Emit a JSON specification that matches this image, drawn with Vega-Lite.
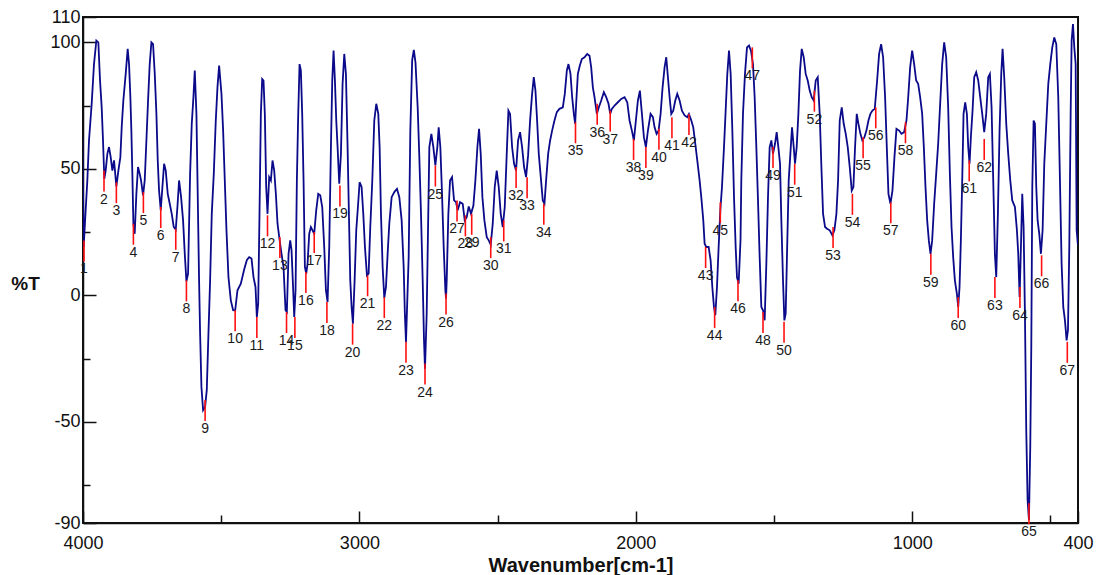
{
  "$schema": "https://vega.github.io/schema/vega-lite/v6.json",
  "width": 995,
  "height": 506,
  "autosize": "none",
  "padding": {"left": 83, "top": 17, "right": 19, "bottom": 52},
  "config": {
    "font": "Liberation Sans",
    "view": {"stroke": "#111", "strokeWidth": 2},
    "axis": {"grid": false, "domainColor": "#111", "domainWidth": 1.5, "tickColor": "#111", "tickWidth": 1.5, "labelColor": "#111", "titleColor": "#111"}
  },
  "datasets": {
    "spectrum": [
      {"w":4002,"t":62.5},{"w":3997.6,"t":19.1},{"w":3990.4,"t":33.6},{"w":3984.3,"t":45.4},{"w":3978.3,"t":61.2},{"w":3968.6,"t":75.7},{"w":3960.2,"t":91.4},{"w":3951.7,"t":100.7},{"w":3944.5,"t":100},{"w":3938.4,"t":84.9},{"w":3932.4,"t":74.3},{"w":3927.6,"t":61.2},{"w":3922.8,"t":46},{"w":3918,"t":49.3},{"w":3911.9,"t":55.9},{"w":3905.9,"t":58.6},{"w":3899.8,"t":54.6},{"w":3893.8,"t":49.3},{"w":3887.7,"t":53.3},{"w":3879.3,"t":43},{"w":3872,"t":49.3},{"w":3864.8,"t":54.6},{"w":3860,"t":66.4},{"w":3854,"t":77},{"w":3845.5,"t":87.5},{"w":3838.3,"t":97.4},{"w":3833.4,"t":91.4},{"w":3828.6,"t":78.3},{"w":3825,"t":65.1},{"w":3821.4,"t":48},{"w":3817.7,"t":28.3},{"w":3812.9,"t":24.3},{"w":3806.9,"t":40.1},{"w":3800.9,"t":50.7},{"w":3794.8,"t":48},{"w":3790,"t":45.4},{"w":3782.7,"t":39.5},{"w":3776.7,"t":45.4},{"w":3770.6,"t":61.2},{"w":3764.6,"t":77},{"w":3758.6,"t":91.4},{"w":3752.5,"t":100},{"w":3746.5,"t":99.3},{"w":3740.4,"t":87.5},{"w":3734.4,"t":71.7},{"w":3729.6,"t":53.3},{"w":3724.8,"t":41.4},{"w":3718.7,"t":33.6},{"w":3712.7,"t":42.8},{"w":3706.6,"t":52},{"w":3700.6,"t":49.3},{"w":3693.4,"t":40.1},{"w":3686.1,"t":36.2},{"w":3678.9,"t":32.2},{"w":3671.7,"t":27},{"w":3664.4,"t":26},{"w":3658.4,"t":34.9},{"w":3652.4,"t":45.4},{"w":3645.1,"t":38.8},{"w":3637.9,"t":29.6},{"w":3631.8,"t":16.4},{"w":3625.8,"t":5.5},{"w":3619.8,"t":8.6},{"w":3612.5,"t":48},{"w":3606.5,"t":67.8},{"w":3600.5,"t":78.3},{"w":3595.6,"t":88.8},{"w":3589.6,"t":71.7},{"w":3584.8,"t":38.8},{"w":3580,"t":5.9},{"w":3576.3,"t":-15.1},{"w":3571.5,"t":-36.2},{"w":3565.5,"t":-45.4},{"w":3558.2,"t":-44.1},{"w":3552.2,"t":-37.5},{"w":3546.1,"t":-15.1},{"w":3540.1,"t":5.9},{"w":3534.1,"t":32.2},{"w":3526.8,"t":48},{"w":3519.6,"t":69.1},{"w":3513.5,"t":82.2},{"w":3507.5,"t":90.8},{"w":3499,"t":79.6},{"w":3493,"t":65.1},{"w":3487,"t":45.4},{"w":3480.9,"t":25.7},{"w":3473.7,"t":7.2},{"w":3465.2,"t":-2},{"w":3456.8,"t":-5.9},{"w":3449.5,"t":-6},{"w":3441.1,"t":2},{"w":3429,"t":4.6},{"w":3416.9,"t":10.2},{"w":3407,"t":14},{"w":3398.8,"t":15.1},{"w":3390.3,"t":14.5},
      {"w":3383.1,"t":7.2},{"w":3375.9,"t":3.3},{"w":3371,"t":-8.6},{"w":3366.2,"t":-3.3},{"w":3361.4,"t":32.2},{"w":3356.5,"t":71.7},{"w":3351.7,"t":85.5},{"w":3346.9,"t":84.9},{"w":3342.1,"t":71.7},{"w":3337.2,"t":42.8},{"w":3332.4,"t":32.2},{"w":3326.4,"t":46.7},{"w":3320.3,"t":45.4},{"w":3314.3,"t":53.3},{"w":3308.2,"t":49.3},{"w":3302.2,"t":40.1},{"w":3296.2,"t":28.3},{"w":3288.9,"t":22},{"w":3281.7,"t":16.4},{"w":3274.5,"t":11.2},{"w":3267.2,"t":-5.9},{"w":3262.4,"t":-6.6},{"w":3256.3,"t":16.4},{"w":3250.3,"t":21.7},{"w":3245.5,"t":17.8},{"w":3239.5,"t":2},{"w":3235.8,"t":-8.6},{"w":3231,"t":2},{"w":3226.2,"t":45.4},{"w":3221.3,"t":71.7},{"w":3216.5,"t":91.4},{"w":3211.7,"t":88.8},{"w":3206.9,"t":71.7},{"w":3202,"t":45.4},{"w":3197.2,"t":11.2},{"w":3192.4,"t":8.6},{"w":3187.5,"t":12.5},{"w":3181.5,"t":24.3},{"w":3175.5,"t":27},{"w":3169.4,"t":25.7},{"w":3163.4,"t":24.3},{"w":3156.2,"t":33.6},{"w":3148.9,"t":40.1},{"w":3141.7,"t":39.5},{"w":3134.4,"t":34.9},{"w":3127.2,"t":19.1},{"w":3121.1,"t":2},{"w":3115.1,"t":-2.6},{"w":3109.1,"t":19.1},{"w":3103,"t":58.6},{"w":3098.2,"t":84.9},{"w":3093.4,"t":96.7},{"w":3088.5,"t":84.9},{"w":3083.7,"t":69.1},{"w":3078.9,"t":58.6},{"w":3072.9,"t":44.1},{"w":3066.8,"t":55.9},{"w":3060.8,"t":83.6},{"w":3054.7,"t":95.4},{"w":3048.7,"t":87.5},{"w":3042.7,"t":58.6},{"w":3037.9,"t":32.2},{"w":3033,"t":5.9},{"w":3028.2,"t":-4.6},{"w":3023.4,"t":-11.2},{"w":3017.3,"t":5.9},{"w":3011.3,"t":25.7},{"w":3005.3,"t":34.9},{"w":2999.2,"t":44.7},{"w":2992,"t":42.8},{"w":2985.9,"t":32.2},{"w":2979.9,"t":19.1},{"w":2972.7,"t":7.9},{"w":2966.6,"t":8.6},{"w":2960.6,"t":27},{"w":2953.3,"t":45.4},{"w":2946.1,"t":69.1},{"w":2938.9,"t":75.7},{"w":2931.6,"t":71.7},{"w":2926.8,"t":58.6},{"w":2921.9,"t":32.2},{"w":2915.9,"t":11.2},{"w":2909.9,"t":-1},{"w":2903.8,"t":3.3},{"w":2897.8,"t":16.4},{"w":2891.8,"t":28.3},{"w":2883.3,"t":38.8},{"w":2873.7,"t":40.8},{"w":2864,"t":42.1},{"w":2855.5,"t":38.8},{"w":2847.1,"t":29.6},{"w":2839.8,"t":11.2},{"w":2835.5,"t":-7.2},{"w":2831.4,"t":-18.4},{"w":2821.7,"t":15.1},{"w":2815.7,"t":65.1},{"w":2809,"t":93},{"w":2803,"t":97},{"w":2797,"t":92},
      {"w":2789.1,"t":74.3},{"w":2783.1,"t":54.6},{"w":2777.1,"t":32.2},{"w":2771,"t":5.9},{"w":2766.2,"t":-17.8},{"w":2762.6,"t":-29},{"w":2756.5,"t":-7.2},{"w":2751.7,"t":25.7},{"w":2746.9,"t":58.6},{"w":2739.6,"t":63.8},{"w":2732.4,"t":58.6},{"w":2725.1,"t":51.3},{"w":2717.9,"t":58.6},{"w":2713.1,"t":66.4},{"w":2707.1,"t":58.6},{"w":2701,"t":40.1},{"w":2695,"t":19.1},{"w":2688.9,"t":2},{"w":2686.5,"t":-1.3},{"w":2684.1,"t":5.9},{"w":2678.1,"t":32.2},{"w":2672,"t":45.4},{"w":2664.8,"t":46.7},{"w":2657.5,"t":37.5},{"w":2650.3,"t":36.8},{"w":2644.3,"t":33.6},{"w":2635.8,"t":36.8},{"w":2626.2,"t":36.2},{"w":2618.9,"t":29.6},{"w":2611.7,"t":30.9},{"w":2604.4,"t":35.1},{"w":2596,"t":32.2},{"w":2587.5,"t":35.5},{"w":2580.3,"t":45.4},{"w":2573,"t":58.6},{"w":2567,"t":65.8},{"w":2561,"t":55.9},{"w":2554.9,"t":38.8},{"w":2547.7,"t":29.6},{"w":2539.2,"t":23},{"w":2532,"t":21.7},{"w":2524.8,"t":20},{"w":2517.5,"t":28.3},{"w":2510.3,"t":42.8},{"w":2503.1,"t":49.3},{"w":2495.8,"t":42.8},{"w":2488.6,"t":32.2},{"w":2481.3,"t":27},{"w":2474.1,"t":34.9},{"w":2466.9,"t":55.9},{"w":2460.8,"t":73},{"w":2454.8,"t":71.7},{"w":2447.5,"t":58.6},{"w":2440.3,"t":52},{"w":2433.1,"t":49.3},{"w":2425.8,"t":61.2},{"w":2418.6,"t":64.5},{"w":2411.3,"t":58.6},{"w":2404.1,"t":50.7},{"w":2396.9,"t":46.7},{"w":2389.6,"t":55.3},{"w":2382.4,"t":69.1},{"w":2375.1,"t":79.6},{"w":2369,"t":86.2},{"w":2363,"t":80.9},{"w":2357,"t":69.1},{"w":2351,"t":55.9},{"w":2343.7,"t":46.7},{"w":2336.5,"t":37.5},{"w":2330.4,"t":36.2},{"w":2324.4,"t":45.4},{"w":2317.1,"t":55.9},{"w":2309.9,"t":61.2},{"w":2302.7,"t":65.1},{"w":2294.2,"t":69.1},{"w":2285.7,"t":72.4},{"w":2276.1,"t":73.7},{"w":2264,"t":74.3},{"w":2256.8,"t":79.6},{"w":2249.5,"t":88.8},{"w":2243.5,"t":91.4},{"w":2236.2,"t":87.5},{"w":2230.2,"t":78.3},{"w":2224.1,"t":71.7},{"w":2219.3,"t":67.8},{"w":2215.7,"t":75.7},{"w":2209.6,"t":87.5},
      {"w":2202.4,"t":90.8},{"w":2195.1,"t":93.4},{"w":2185.5,"t":94.1},{"w":2175.8,"t":95.4},{"w":2167.4,"t":94.7},{"w":2161.3,"t":90.1},{"w":2155.3,"t":82.2},{"w":2149.3,"t":78.3},{"w":2140.8,"t":71.7},{"w":2133.6,"t":74.3},{"w":2125.1,"t":77},{"w":2115.5,"t":80.3},{"w":2107,"t":78.3},{"w":2098.6,"t":75.7},{"w":2092.5,"t":71.7},{"w":2086.5,"t":73.7},{"w":2076.8,"t":75},{"w":2064.8,"t":76.3},{"w":2052.7,"t":77.6},{"w":2040.6,"t":78.3},{"w":2030.9,"t":76.3},{"w":2022.5,"t":69.1},{"w":2014.1,"t":65.1},{"w":2006.8,"t":61.2},{"w":2000.8,"t":67.8},{"w":1992.3,"t":77},{"w":1985.1,"t":80.9},{"w":1977.8,"t":71.7},{"w":1970.6,"t":62.5},{"w":1963.4,"t":58.6},{"w":1956.1,"t":65.1},{"w":1946.5,"t":71.7},{"w":1938,"t":70.4},{"w":1932,"t":66.4},{"w":1924.7,"t":63.8},{"w":1917.5,"t":65.1},{"w":1910.2,"t":71.7},{"w":1903,"t":82.2},{"w":1895.8,"t":90.1},{"w":1889.7,"t":94.1},{"w":1883.7,"t":86.2},{"w":1877.6,"t":78.3},{"w":1871.6,"t":71.7},{"w":1864.4,"t":73},{"w":1857.1,"t":77},{"w":1849.9,"t":79.6},{"w":1841.4,"t":77},{"w":1833,"t":73},{"w":1823.3,"t":71.1},{"w":1813.7,"t":70.4},{"w":1807.6,"t":71.7},{"w":1799.1,"t":69.1},{"w":1792,"t":66.4},{"w":1784.7,"t":59.9},{"w":1777.5,"t":53.3},{"w":1769,"t":45.4},{"w":1763,"t":38.8},{"w":1755.7,"t":29.6},{"w":1750.9,"t":20.4},{"w":1744.9,"t":19.1},{"w":1736.4,"t":19.1},{"w":1729.2,"t":13.8},{"w":1723.1,"t":3.3},{"w":1717.1,"t":-4.6},{"w":1712.3,"t":-7.9},{"w":1706.2,"t":3.3},{"w":1700.2,"t":19.1},{"w":1694.1,"t":33.6},{"w":1688.1,"t":42.8},{"w":1680.8,"t":58.6},{"w":1674.8,"t":73},{"w":1668.8,"t":87.5},{"w":1662.7,"t":96.7},{"w":1656.7,"t":87.5},{"w":1650.6,"t":65.1},{"w":1644.6,"t":38.8},{"w":1638.6,"t":19.1},{"w":1633.8,"t":7.2},{"w":1627.8,"t":4.6},{"w":1621,"t":22},{"w":1618.2,"t":45.4},{"w":1612.1,"t":71.7},{"w":1604.9,"t":87.5},
      {"w":1597.6,"t":98},{"w":1590.4,"t":98.7},{"w":1583.2,"t":96.7},{"w":1575.9,"t":91.4},{"w":1569.9,"t":78.3},{"w":1563.8,"t":58.6},{"w":1557.8,"t":37.5},{"w":1551.8,"t":15.1},{"w":1545.7,"t":-4.6},{"w":1539.7,"t":-5.9},{"w":1533.7,"t":-9.9},{"w":1527.6,"t":12.5},{"w":1521.6,"t":38.8},{"w":1515.6,"t":58.6},{"w":1509.5,"t":61.2},{"w":1503.5,"t":55.9},{"w":1496.2,"t":59.9},{"w":1490.2,"t":64.5},{"w":1484.2,"t":58.6},{"w":1478.1,"t":52},{"w":1473.3,"t":29.6},{"w":1467.3,"t":5.9},{"w":1462.4,"t":-9.9},{"w":1457.6,"t":-7.2},{"w":1452.8,"t":16.4},{"w":1446.7,"t":45.4},{"w":1440.7,"t":55.9},{"w":1434.7,"t":66.4},{"w":1428.6,"t":58.6},{"w":1423.8,"t":52},{"w":1417.8,"t":58.6},{"w":1411.7,"t":71.7},{"w":1405.7,"t":88.8},{"w":1399.6,"t":97.4},{"w":1392.4,"t":94.1},{"w":1385.2,"t":87.5},{"w":1377.9,"t":84.9},{"w":1370.7,"t":80.9},{"w":1363.4,"t":78.3},{"w":1356.2,"t":77},{"w":1348.9,"t":84.9},{"w":1341.7,"t":86.2},{"w":1334.5,"t":71.7},{"w":1328.4,"t":50.7},{"w":1322.4,"t":32.2},{"w":1315.2,"t":27},{"w":1307.9,"t":26.3},{"w":1298.3,"t":25.7},{"w":1288.6,"t":23.7},{"w":1281.4,"t":25.7},{"w":1274.1,"t":32.2},{"w":1268.1,"t":45.4},{"w":1262.1,"t":69.1},{"w":1254.8,"t":74.3},{"w":1247.6,"t":67.8},{"w":1240.3,"t":63.8},{"w":1233.1,"t":58.6},{"w":1225.9,"t":50.7},{"w":1218.6,"t":41.4},{"w":1212.6,"t":42.8},{"w":1206.6,"t":58.6},{"w":1200.5,"t":71.7},{"w":1194.5,"t":67.8},{"w":1187.3,"t":63.8},{"w":1180,"t":61.2},{"w":1172.7,"t":62.5},{"w":1165.5,"t":65.1},{"w":1158.2,"t":69.1},{"w":1151,"t":71.7},{"w":1143.7,"t":73},{"w":1135.3,"t":73.7},{"w":1126.8,"t":84.9},{"w":1119.6,"t":95.4},{"w":1112.3,"t":99.3},{"w":1105.1,"t":94.1},{"w":1097.9,"t":78.3},{"w":1091.8,"t":58.6},{"w":1085.8,"t":40.1},{"w":1078.5,"t":36.2},{"w":1071.3,"t":41.4},{"w":1064.1,"t":54.6},{"w":1056.8,"t":65.8},{"w":1047.2,"t":65.1},{"w":1038.7,"t":63.8},{"w":1029.1,"t":64.5},{"w":1020.6,"t":69.1},{"w":1014.5,"t":78},
      {"w":1007.3,"t":90.1},{"w":1000,"t":96.7},{"w":992.8,"t":91.4},{"w":985.6,"t":84.9},{"w":978.3,"t":83.6},{"w":971.1,"t":78.3},{"w":963.8,"t":71.7},{"w":957.8,"t":58.6},{"w":951.8,"t":42.8},{"w":945.7,"t":29.6},{"w":939.7,"t":21.7},{"w":933.6,"t":16.4},{"w":927.6,"t":21.7},{"w":920.4,"t":36.2},{"w":913.1,"t":48},{"w":905.9,"t":59.9},{"w":898.7,"t":75.7},{"w":891.4,"t":91.4},{"w":884.2,"t":100},{"w":876.9,"t":94.1},{"w":869.7,"t":74.3},{"w":863.6,"t":48},{"w":857.6,"t":27},{"w":851.6,"t":15.1},{"w":845.5,"t":5.9},{"w":838.3,"t":0.7},{"w":833.4,"t":-4.6},{"w":828.6,"t":3.3},{"w":823.8,"t":21.7},{"w":818.9,"t":45.4},{"w":814.1,"t":71.7},{"w":808.1,"t":76.3},{"w":802,"t":71.7},{"w":797.2,"t":58.6},{"w":792.4,"t":52},{"w":787.6,"t":62.5},{"w":781.5,"t":73},{"w":775.5,"t":86.2},{"w":768.3,"t":88.2},{"w":761,"t":84.9},{"w":753.8,"t":78.3},{"w":746.5,"t":71.7},{"w":739.3,"t":64.5},{"w":732.1,"t":71.7},{"w":724.8,"t":86.2},{"w":718.8,"t":87.5},{"w":712.7,"t":74.3},{"w":706.7,"t":45.4},{"w":700.7,"t":16.4},{"w":695.8,"t":7.2},{"w":689.8,"t":32.2},{"w":683.8,"t":65.1},{"w":677.7,"t":87.5},{"w":672.9,"t":97.4},{"w":666.9,"t":86.2},{"w":659.6,"t":67.8},{"w":652.4,"t":55.9},{"w":645.1,"t":45.4},{"w":637.9,"t":37.5},{"w":628.2,"t":34.9},{"w":621,"t":25.7},{"w":616.2,"t":16.4},{"w":611.3,"t":-0.7},{"w":606.5,"t":19.1},{"w":601.7,"t":40.1},{"w":596.8,"t":27},{"w":592,"t":-7.2},{"w":587.2,"t":-53.3},{"w":582.4,"t":-80.9},{"w":577.5,"t":-88.8},{"w":572.7,"t":-59.9},{"w":569,"t":-20.4},{"w":565.4,"t":42.8},{"w":560.6,"t":69.1},{"w":555.8,"t":67.8},{"w":551,"t":42.8},{"w":546.1,"t":29.6},{"w":540.1,"t":24.3},{"w":534.1,"t":16.4},{"w":528.1,"t":25.7},{"w":522,"t":52},{"w":514.8,"t":67.8},{"w":507.5,"t":83.6},{"w":500.3,"t":91.4},{"w":493.1,"t":98},{"w":485.8,"t":101.9},{"w":478.6,"t":99.3},{"w":471.4,"t":78.3},{"w":465.3,"t":45.4},{"w":459.3,"t":12.5},{"w":453.3,"t":-4.6},{"w":447.2,"t":-9.9},{"w":441.2,"t":-17.8},{"w":436.3,"t":-13.8},{"w":431.5,"t":19.1},{"w":426.6,"t":71.7},{"w":423,"t":100.7},{"w":418.2,"t":107.2},{"w":413.4,"t":98},{"w":408.5,"t":91.4},{"w":404.9,"t":25.7},{"w":400.5,"t":20}
    ],
    "peaks": [
      {"n":"1","w":3996.4,"t":21.7},{"n":"2","w":3924,"t":49.3},{"n":"3","w":3879.3,"t":44.7},{"n":"4","w":3817.7,"t":28.3},{"n":"5","w":3781.5,"t":40.8},{"n":"6","w":3718.7,"t":34.9},{"n":"7","w":3664.4,"t":26.3},{"n":"8","w":3625.8,"t":5.9},{"n":"9","w":3558.2,"t":-41.4},{"n":"10","w":3449.5,"t":-5.9},
      {"n":"11","w":3371,"t":-8.6},{"n":"12","w":3332.4,"t":31.6},{"n":"13","w":3287.7,"t":23},{"n":"14","w":3263.6,"t":-6.6},{"n":"15","w":3233.4,"t":-8.6},{"n":"16","w":3193.6,"t":9.2},{"n":"17","w":3163.4,"t":25},{"n":"18","w":3117.5,"t":-2.6},{"n":"19","w":3070.4,"t":43.4},{"n":"20","w":3024.6,"t":-11.2},
      {"n":"21","w":2970.3,"t":7.9},{"n":"22","w":2909.9,"t":-0.7},{"n":"23","w":2831.4,"t":-18.4},{"n":"24","w":2762.6,"t":-27},{"n":"25","w":2725.1,"t":51.3},{"n":"26","w":2686.5,"t":0.7},{"n":"27","w":2646.7,"t":37.5},{"n":"28","w":2616.5,"t":31.6},{"n":"29","w":2593.6,"t":32.2},{"n":"30","w":2524.8,"t":23},
      {"n":"31","w":2477.7,"t":29.6},{"n":"32","w":2433,"t":50.7},{"n":"33","w":2393.2,"t":46.7},{"n":"34","w":2332.8,"t":36.2},{"n":"35","w":2218.1,"t":68.4},{"n":"36","w":2139.6,"t":75.7},{"n":"37","w":2092.5,"t":73},{"n":"38","w":2008,"t":61.8},{"n":"39","w":1963.4,"t":58.6},{"n":"40","w":1916.3,"t":65.8},
      {"n":"41","w":1869.2,"t":70.4},{"n":"42","w":1807.6,"t":71.7},{"n":"43","w":1747.3,"t":19.1},{"n":"44","w":1714.7,"t":-4.6},{"n":"45","w":1694.1,"t":36.8},{"n":"46","w":1630.2,"t":5.9},{"n":"47","w":1578.3,"t":98},{"n":"48","w":1539.7,"t":-6.6},{"n":"49","w":1503.5,"t":58.6},{"n":"50","w":1463.6,"t":-10.5},
      {"n":"51","w":1425,"t":52},{"n":"52","w":1353.8,"t":80.9},{"n":"53","w":1286.2,"t":27},{"n":"54","w":1216.2,"t":40.1},{"n":"55","w":1177.5,"t":62.5},{"n":"56","w":1131.7,"t":74.3},{"n":"57","w":1077.3,"t":36.8},{"n":"58","w":1024.2,"t":68.4},{"n":"59","w":932.4,"t":16.4},{"n":"60","w":833.4,"t":-0.7},
      {"n":"61","w":793.6,"t":53.3},{"n":"62","w":739.3,"t":61.8},{"n":"63","w":700.7,"t":7.2},{"n":"64","w":610.1,"t":3.3},{"n":"65","w":577.5,"t":-82.2},{"n":"66","w":531.7,"t":15.8},{"n":"67","w":438.7,"t":-18.4}
    ]
  },
  "layer": [
    {
      "mark": {"type": "rule", "color": "#000", "strokeWidth": 1.5},
      "encoding": {
        "y": {"datum": 0, "type": "quantitative", "scale": {"domain": [-90, 110]}}
      }
    },
    {
      "data": {"name": "spectrum"},
      "mark": {"type": "line", "color": "#0a0a8a", "strokeWidth": 1.8, "clip": true},
      "encoding": {
        "x": {
          "field": "w", "type": "quantitative",
          "scale": {"domain": [4000, 400], "nice": false, "zero": false},
          "axis": {
            "values": [4000, 3500, 3000, 2500, 2000, 1500, 1000, 500, 400],
            "labelExpr": "(datum.value % 1000 == 0 || datum.value == 400) ? ('' + datum.value) : ''",
            "tickSize": {"condition": {"test": "datum.value % 1000 == 0 || datum.value == 400", "value": -12}, "value": -8},
            "labelPadding": 23,
            "labelFontSize": 18,
            "labelOverlap": false,
            "labelFlush": false,
            "title": "Wavenumber[cm-1]",
            "titleFontSize": 20,
            "titleFontWeight": "bold",
            "titleBaseline": "middle",
            "titleY": 42
          }
        },
        "y": {
          "field": "t", "type": "quantitative",
          "scale": {"domain": [-90, 110], "nice": false, "zero": false},
          "axis": {
            "values": [-90, -75, -50, -25, 0, 25, 50, 75, 100, 110],
            "labelExpr": "indexof([-90, -50, 0, 50, 100, 110], datum.value) >= 0 ? ('' + datum.value) : ''",
            "tickSize": {"condition": {"test": "indexof([-90, -50, 0, 50, 100, 110], datum.value) >= 0", "value": -13}, "value": -7},
            "labelPadding": 16,
            "labelFontSize": 18,
            "labelOverlap": false,
            "labelFlush": false,
            "title": "%T",
            "titleAngle": 0,
            "titleFontSize": 19,
            "titleFontWeight": "bold",
            "titleAlign": "center",
            "titleBaseline": "middle",
            "titleX": -58,
            "titleY": 266
          }
        }
      }
    },
    {
      "data": {"name": "peaks"},
      "mark": {"type": "rule", "color": "#ff1010", "strokeWidth": 1.6, "y2Offset": 21},
      "encoding": {
        "x": {"field": "w", "type": "quantitative"},
        "y": {"field": "t", "type": "quantitative"},
        "y2": {"field": "t"}
      }
    },
    {
      "data": {"name": "peaks"},
      "mark": {"type": "text", "fontSize": 14, "color": "#1a1a1a", "baseline": "middle", "align": "center", "dy": 29},
      "encoding": {
        "x": {"field": "w", "type": "quantitative"},
        "y": {"field": "t", "type": "quantitative"},
        "text": {"field": "n"}
      }
    }
  ]
}
